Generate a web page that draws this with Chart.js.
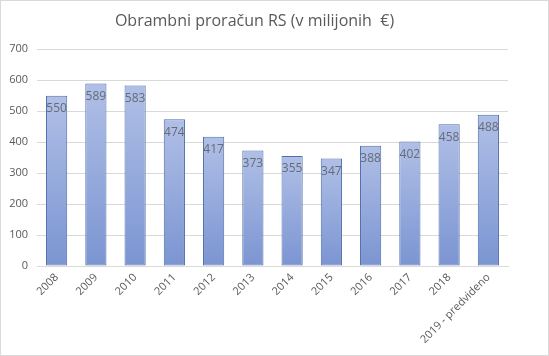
<!DOCTYPE html>
<html>
<head>
<meta charset="utf-8">
<script src="https://cdn.jsdelivr.net/npm/chart.js@4"></script>
<style>
  html, body { margin: 0; padding: 0; background: #fff; }
  #wrap { width: 547px; height: 354px; border: 1px solid #d9d9d9; }
</style>
</head>
<body>
<div id="wrap"><canvas id="myChart" width="547" height="354"></canvas></div>
<script>
const years = ['2008', '2009', '2010', '2011', '2012', '2013', '2014', '2015', '2016', '2017', '2018', '2019 - predvideno'];
const budget = [550, 589, 583, 474, 417, 373, 355, 347, 388, 402, 458, 488];
const yTicks = [0, 100, 200, 300, 400, 500, 600, 700];

const textColor = '#595959';
const fontFamily = "'Open Sans', 'Liberation Sans', sans-serif";

// per-bar gradient, light at top, darker at the base
function barGradient(context) {
    const chart = context.chart;
    const area = chart.chartArea;
    if (!area) return '#9aaee0';
    const value = context.parsed ? context.parsed.y : 0;
    const top = chart.scales.y.getPixelForValue(value);
    const g = chart.ctx.createLinearGradient(0, top, 0, area.bottom);
    g.addColorStop(0, '#b0bfe6');
    g.addColorStop(1, '#7b95d2');
    return g;
}

const valueLabels = {
    id: 'valueLabels',
    afterDatasetsDraw(chart) {
        const ctx = chart.ctx;
        const meta = chart.getDatasetMeta(0);
        ctx.save();
        ctx.font = '12px ' + fontFamily;
        ctx.fillStyle = '#656b78';
        ctx.textAlign = 'center';
        ctx.textBaseline = 'middle';
        meta.data.forEach((bar, i) => {
            ctx.fillText(String(budget[i]), bar.x, bar.y + 13);
        });
        ctx.restore();
    }
};

new Chart('myChart', {
    type: 'bar',
    data: {
        labels: years,
        datasets: [{
            data: budget,
            backgroundColor: barGradient,
            borderColor: '#4f6eaa',
            borderWidth: 1,
            borderSkipped: false,
            barPercentage: 0.54,
            categoryPercentage: 1,
        }]
    },
    options: {
        responsive: false,
        animation: false,
        layout: {
            padding: { top: 0, left: 0, right: 40, bottom: 0 }
        },
        scales: {
            x: {
                grid: { display: false, drawTicks: false },
                border: { color: '#d9d9d9' },
                afterFit(axis) { axis.height = 89; },
                ticks: {
                    color: textColor,
                    font: { size: 11, family: fontFamily },
                    minRotation: 45,
                    maxRotation: 45,
                    padding: 5,
                },
            },
            y: {
                min: 0,
                max: 700,
                afterBuildTicks(axis) {
                    axis.ticks = yTicks.map(v => ({ value: v }));
                },
                afterFit(axis) { axis.width = 36; },
                grid: { color: '#d9d9d9', drawTicks: false },
                border: { display: false },
                ticks: {
                    color: textColor,
                    font: { size: 11, family: fontFamily },
                    padding: 9,
                },
            }
        },
        plugins: {
            legend: { display: false },
            tooltip: { enabled: false },
            title: {
                display: true,
                text: 'Obrambni proračun RS (v milijonih  €)',
                color: textColor,
                font: { size: 16, weight: 'normal', family: fontFamily },
                padding: { top: 11, bottom: 18 },
            }
        }
    },
    plugins: [valueLabels]
});
</script>
</body>
</html>
